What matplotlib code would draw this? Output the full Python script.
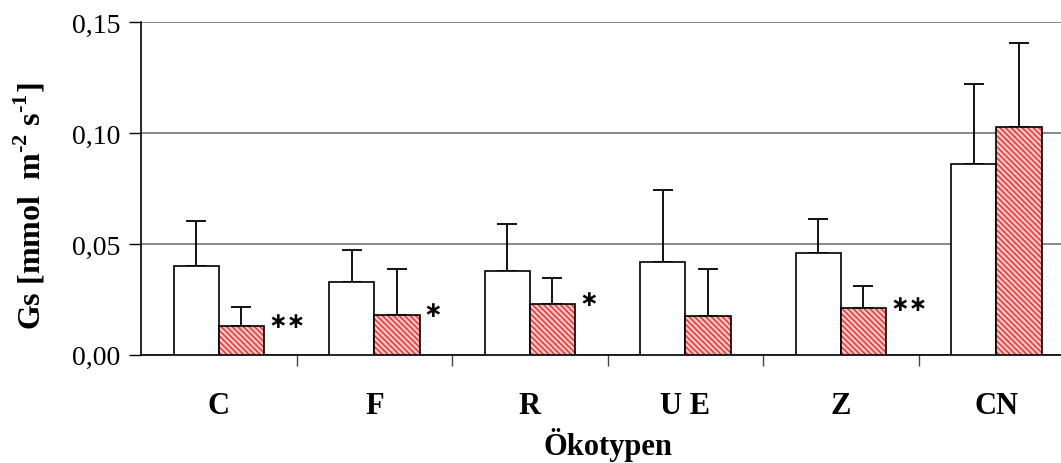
import numpy as np
import matplotlib
matplotlib.use('Agg')
import matplotlib.pyplot as plt

plt.rcParams['font.family'] = 'Liberation Serif'
plt.rcParams['mathtext.fontset'] = 'custom'
plt.rcParams['mathtext.rm'] = 'Liberation Serif:bold'
plt.rcParams['mathtext.bf'] = 'Liberation Serif:bold'
plt.rcParams['hatch.linewidth'] = 1.0

groups = ['C', 'F', 'R', 'U E', 'Z', 'CN']
control = [0.040, 0.033, 0.038, 0.042, 0.046, 0.086]
control_err = [0.0205, 0.0144, 0.021, 0.0324, 0.0151, 0.036]
treated = [0.013, 0.018, 0.023, 0.0173, 0.021, 0.103]
treated_err = [0.0087, 0.0205, 0.0116, 0.0215, 0.0099, 0.0377]
signif = ['**', '*', '*', '', '**', '']

fig = plt.figure(figsize=(10.61, 4.64), dpi=100)
ax = fig.add_axes([0.1329, 0.2334, 0.8794, 0.7162])

x = np.arange(len(groups))
w = 0.291

ax.bar(x - w / 2, control, w, color='white', edgecolor='black', linewidth=1.2, zorder=3)
ax.errorbar(x - w / 2, control, yerr=[np.zeros(len(x)), control_err], fmt='none',
            ecolor='black', elinewidth=1.3, capsize=7, capthick=1.3, zorder=2)

# hatched fill first, black outline on top
ax.bar(x + w / 2, treated, w, color='#ffc4c4', edgecolor='#ee2a2a', hatch='\\\\\\\\\\\\',
       linewidth=0, zorder=3)
ax.bar(x + w / 2, treated, w, fill=False, edgecolor='black', linewidth=1.2, zorder=4)
ax.errorbar(x + w / 2, treated, yerr=[np.zeros(len(x)), treated_err], fmt='none',
            ecolor='black', elinewidth=1.3, capsize=7, capthick=1.3, zorder=2)

for xi, v, s in zip(x, treated, signif):
    if s:
        ax.text(xi + w + 0.025, v + 0.002, s.replace('*', '\u2217'), fontsize=16,
                fontweight='bold', family='DejaVu Sans', ha='left', va='center')

ax.set_xlim(-0.5, len(groups) - 0.5)
ax.set_ylim(0, 0.15)
ax.set_yticks([0, 0.05, 0.10, 0.15])
ax.set_yticklabels(['0,00', '0,05', '0,10', '0,15'], fontsize=20)
ax.yaxis.grid(True, color='#808080', linewidth=1.3)
ax.set_axisbelow(True)

ax.set_xticks(x)
ax.set_xticklabels(groups, fontsize=22, fontweight='bold')
ax.set_xticks(np.arange(len(groups)) + 0.5, minor=True)
ax.tick_params(axis='x', which='major', length=0, pad=26)
ax.tick_params(axis='x', which='minor', length=8, width=1, color='#444444')
ax.tick_params(axis='y', length=9, width=1, pad=6)

for sp in ['top', 'right']:
    ax.spines[sp].set_visible(False)
ax.spines['left'].set_linewidth(1.2)
ax.spines['bottom'].set_linewidth(1.2)

ax.set_xlabel('Ökotypen', fontsize=22, fontweight='bold', labelpad=5)
fig.text(0.028, 0.555, r'Gs [mmol  m$^{\text{-}2}$ s$^{\text{-}1}$]', rotation=90,
         fontsize=23, fontweight='bold', ha='center', va='center')

fig.savefig('out.png', dpi=100)
